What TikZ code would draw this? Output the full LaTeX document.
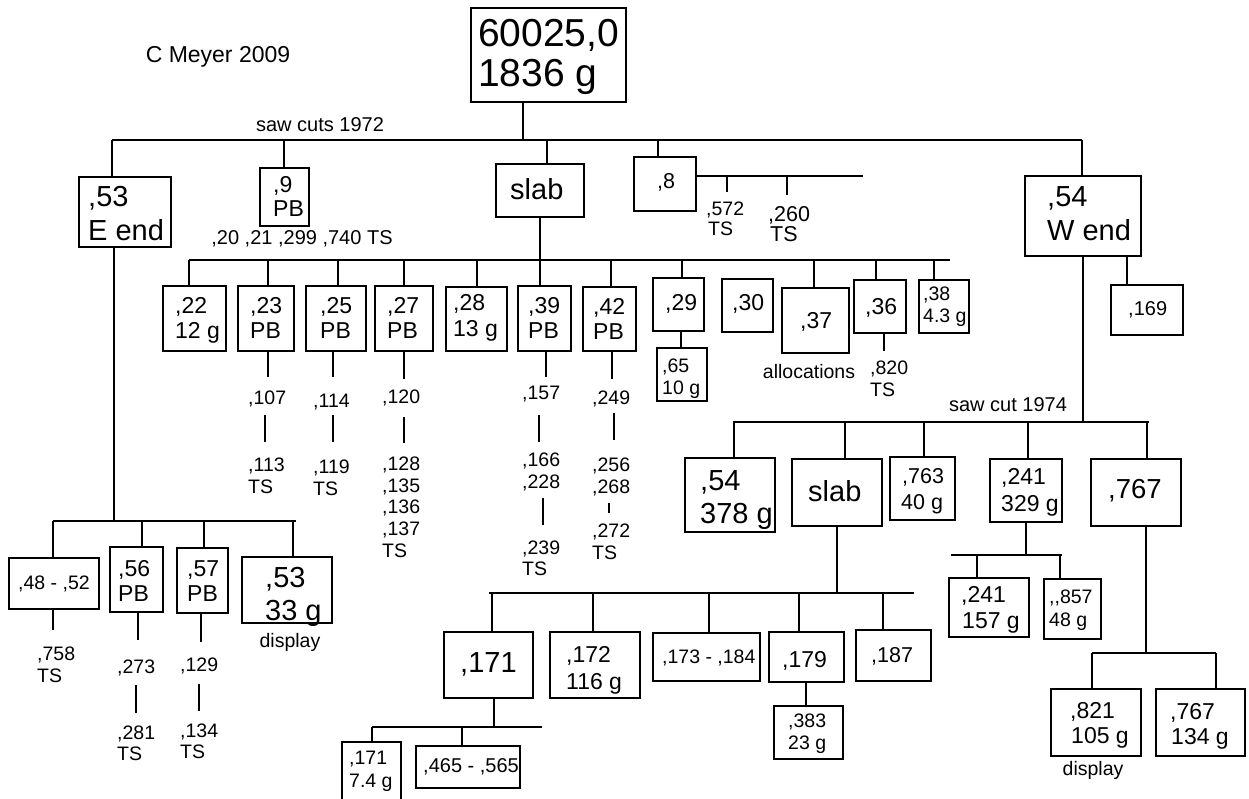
\documentclass[tikz,border=0pt]{standalone}
\usepackage{fontspec}
\setmainfont{Liberation Sans}
\newcommand\fzR{\fontsize{39pt}{41pt}\selectfont}
\newcommand\fzL{\fontsize{29pt}{32pt}\selectfont}
\newcommand\fzK{\fontsize{27.5pt}{30pt}\selectfont}
\newcommand\fzM{\fontsize{23pt}{25pt}\selectfont}
\newcommand\fzN{\fontsize{21.5pt}{24pt}\selectfont}
\newcommand\fzT{\fontsize{20pt}{22pt}\selectfont}
\newcommand\fzS{\fontsize{19.5pt}{22pt}\selectfont}
% box: name x1 y1 x2 y2
\newcommand\bx[5]{\node[boxst, minimum width=#4pt-#2pt, minimum height=#5pt-#3pt, anchor=north west] (#1) at (#2,#3) {};}
% text, left baseline
\newcommand\tl[5]{\node[font=#2, anchor=base west, inner sep=0pt] (#1) at (#3,#4) {#5};}
% text, centred baseline
\newcommand\tc[5]{\node[font=#2, anchor=base, inner sep=0pt] (#1) at (#3,#4) {#5};}
% vertical from bus point down to node top
\newcommand\drop[4]{\coordinate (#1) at (#2,#3); \draw[ln] (#1) -- (#1 |- #4.north);}
% vertical from node bottom down to point
\newcommand\rise[4]{\coordinate (#1) at (#2,#3); \draw[ln] (#4.south -| #1) -- (#1);}
% vertical between two nodes at given x
\newcommand\link[6]{\coordinate (#1) at (#2,0); \draw[ln] (#3.#4 -| #1) -- (#5.#6 -| #1);}
% free vertical segment
\newcommand\seg[4]{\coordinate (#1a) at (#2,#3); \coordinate (#1b) at (#2,#4); \draw[ln] (#1a) -- (#1b);}
% horizontal bus
\newcommand\bus[4]{\coordinate (#1L) at (#2,#4); \coordinate (#1R) at (#3,#4); \draw[ln] (#1L) -- (#1R);}
\begin{document}
\begin{tikzpicture}[x=1pt,y=-1pt,
  ln/.style={line width=1.3pt},
  boxst/.style={draw, line width=1.5pt, inner sep=0pt, outer sep=0pt}]
\clip (0,0) rectangle (1249,799);
\fill[white] (0,0) rectangle (1249,799);

\tc{title}{\fzM}{218}{63}{C Meyer 2009}

% root
\bx{root}{471}{8}{626}{102}
\tl{rootA}{\fzR}{478}{47}{60025,0}
\tl{rootB}{\fzR}{478}{87}{1836 g}
\rise{r1}{523}{140}{root}
\bus{mb}{112}{1082}{140}
\tc{saw72}{\fzT}{320}{132}{saw cuts 1972}

% E end
\bx{eend}{79}{177}{171}{247}
\drop{d1}{112}{140}{eend}
\tl{eendA}{\fzL}{88}{207}{,53}
\tl{eendB}{\fzL}{88}{241}{E end}

% ,9 PB
\bx{b9}{260}{168}{309}{226}
\drop{d2}{284}{140}{b9}
\tl{b9A}{\fzM}{273}{193}{,9}
\tl{b9B}{\fzM}{273}{217}{PB}
\tc{ts9}{\fzT}{302}{245}{,20 ,21 ,299 ,740 TS}

% slab (1972)
\bx{slabA}{496}{164}{584}{217}
\drop{d3}{547}{140}{slabA}
\tl{slabAt}{\fzL}{510}{200}{slab}

% ,8
\bx{b8}{634}{157}{696}{211}
\drop{d4}{658}{140}{b8}
\tl{b8t}{\fzN}{657}{189}{,8}
\coordinate (b8R) at (863,176);
\draw[ln] (b8.east |- b8R) -- (b8R);
\seg{t572}{727}{176}{192}
\seg{t260}{787}{176}{195}
\tl{l572a}{\fzS}{706}{216}{,572}
\tl{l572b}{\fzS}{708}{236}{TS}
\tl{l260a}{\fzN}{768}{222}{,260}
\tl{l260b}{\fzN}{770}{242}{TS}

% W end
\bx{wend}{1025}{176}{1141}{256}
\drop{d5}{1082}{140}{wend}
\tl{wendA}{\fzL}{1047}{207}{,54}
\tl{wendB}{\fzL}{1047}{241}{W end}
\bx{b169}{1111}{285}{1183}{335}
\link{c169}{1127}{wend}{south}{b169}{north}
\tl{b169t}{\fzT}{1128}{316}{,169}
\rise{w1}{1083}{422}{wend}

% second row
\bus{sb}{189}{950}{260}
\bx{b22}{163}{286}{226}{351}
\drop{e1}{189}{260}{b22}
\tl{b22A}{\fzM}{175}{313}{,22}
\tl{b22B}{\fzM}{175}{338}{12 g}
\bx{b23}{238}{286}{294}{351}
\drop{e2}{268}{260}{b23}
\tl{b23A}{\fzM}{250}{313}{,23}
\tl{b23B}{\fzM}{250}{338}{PB}
\bx{b25}{306}{286}{366}{351}
\drop{e3}{338}{260}{b25}
\tl{b25A}{\fzM}{320}{313}{,25}
\tl{b25B}{\fzM}{320}{338}{PB}
\bx{b27}{375}{286}{433}{351}
\drop{e4}{404}{260}{b27}
\tl{b27A}{\fzM}{387}{313}{,27}
\tl{b27B}{\fzM}{387}{338}{PB}
\bx{b28}{446}{287}{507}{351}
\drop{e5}{477}{260}{b28}
\tl{b28A}{\fzM}{453}{311}{,28}
\tl{b28B}{\fzM}{453}{336}{13 g}
\bx{b39}{518}{286}{571}{351}
\link{s1}{540}{slabA}{south}{b39}{north}
\tl{b39A}{\fzM}{528}{313}{,39}
\tl{b39B}{\fzM}{528}{338}{PB}
\bx{b42}{583}{287}{636}{351}
\drop{e6}{611}{260}{b42}
\tl{b42A}{\fzM}{593}{314}{,42}
\tl{b42B}{\fzM}{593}{339}{PB}
\bx{b29}{653}{278}{704}{331}
\drop{e7}{682}{260}{b29}
\tl{b29t}{\fzM}{665}{310}{,29}
\bx{b65}{657}{348}{707}{401}
\link{c65}{681}{b29}{south}{b65}{north}
\tl{b65A}{\fzS}{662}{372}{,65}
\tl{b65B}{\fzS}{662}{394}{10 g}
\bx{b30}{722}{279}{773}{332}
\tl{b30t}{\fzM}{732}{311}{,30}
\bx{b37}{782}{288}{849}{353}
\drop{e8}{814}{260}{b37}
\tl{b37t}{\fzM}{800}{328}{,37}
\tc{alloc}{\fzS}{809}{378}{allocations}
\bx{b36}{854}{280}{906}{333}
\drop{e9}{876}{260}{b36}
\tl{b36t}{\fzM}{865}{314}{,36}
\rise{c820}{884}{351}{b36}
\tl{l820a}{\fzS}{870}{374}{,820}
\tl{l820b}{\fzS}{870}{396}{TS}
\bx{b38}{919}{280}{969}{333}
\drop{e10}{934}{260}{b38}
\tl{b38A}{\fzS}{923}{301}{,38}
\tl{b38B}{\fzS}{923}{323}{4.3 g}

% chains below row 2
\rise{c107}{268}{377}{b23}
\tl{l107}{\fzS}{248}{404}{,107}
\seg{g107}{265}{415}{442}
\tl{l113}{\fzS}{248}{471}{,113}
\tl{l113b}{\fzS}{248}{493}{TS}

\rise{c114}{333}{377}{b25}
\tl{l114}{\fzS}{313}{407}{,114}
\seg{g114}{333}{415}{442}
\tl{l119}{\fzS}{313}{473}{,119}
\tl{l119b}{\fzS}{313}{495}{TS}

\rise{c120}{404}{379}{b27}
\tl{l120}{\fzS}{382}{403}{,120}
\seg{g120}{404}{417}{443}
\tl{l128}{\fzS}{382}{470}{,128}
\tl{l135}{\fzS}{382}{492}{,135}
\tl{l136}{\fzS}{382}{513}{,136}
\tl{l137}{\fzS}{382}{535}{,137}
\tl{l137b}{\fzS}{382}{557}{TS}

\rise{c157}{546}{377}{b39}
\tl{l157}{\fzS}{522}{399}{,157}
\seg{g157}{539}{415}{442}
\tl{l166}{\fzS}{522}{466}{,166}
\tl{l228}{\fzS}{522}{488}{,228}
\seg{g228}{543}{498}{525}
\tl{l239}{\fzS}{522}{554}{,239}
\tl{l239b}{\fzS}{522}{575}{TS}

\rise{c249}{612}{379}{b42}
\tl{l249}{\fzS}{592}{404}{,249}
\seg{g249}{614}{413}{440}
\tl{l256}{\fzS}{592}{471}{,256}
\tl{l268}{\fzS}{592}{493}{,268}
\seg{g268}{609}{503}{513}
\tl{l272}{\fzS}{592}{537}{,272}
\tl{l272b}{\fzS}{592}{559}{TS}

% E end branch
\rise{c4}{114}{521}{eend}
\bus{lb}{53}{296}{521}
\bx{b48}{9}{558}{99}{609}
\drop{f1}{53}{521}{b48}
\tl{b48t}{\fzS}{18}{589}{,48 - ,52}
\rise{c758}{53}{630}{b48}
\tl{l758}{\fzS}{37}{660}{,758}
\tl{l758b}{\fzS}{37}{682}{TS}
\bx{b56}{110}{547}{163}{612}
\drop{f2}{142}{521}{b56}
\tl{b56A}{\fzM}{118}{576}{,56}
\tl{b56B}{\fzM}{118}{601}{PB}
\rise{c273}{138}{640}{b56}
\tl{l273}{\fzS}{117}{673}{,273}
\seg{g273}{136}{685}{713}
\tl{l281}{\fzS}{117}{739}{,281}
\tl{l281b}{\fzS}{117}{760}{TS}
\bx{b57}{177}{548}{228}{613}
\drop{f3}{204}{521}{b57}
\tl{b57A}{\fzM}{187}{576}{,57}
\tl{b57B}{\fzM}{187}{601}{PB}
\rise{c129}{201}{642}{b57}
\tl{l129}{\fzS}{180}{671}{,129}
\seg{g129}{199}{684}{711}
\tl{l134}{\fzS}{180}{737}{,134}
\tl{l134b}{\fzS}{180}{758}{TS}
\bx{b53}{242}{557}{332}{623}
\drop{f4}{293}{521}{b53}
\tl{b53A}{\fzL}{265}{587}{,53}
\tl{b53B}{\fzL}{265}{620}{33 g}
\tc{disp1}{\fzS}{290}{647}{display}

% saw cut 1974 branch
\bus{rb}{733}{1149}{422}
\tc{saw74}{\fzT}{1008}{411}{saw cut 1974}
\bx{b54}{685}{458}{775}{532}
\drop{h1}{734}{422}{b54}
\tl{b54A}{\fzL}{700}{490}{,54}
\tl{b54B}{\fzL}{700}{523}{378 g}
\bx{slabB}{792}{459}{882}{526}
\drop{h2}{845}{422}{slabB}
\tl{slabBt}{\fzL}{808}{501}{slab}
\bx{b763}{890}{457}{955}{520}
\drop{h3}{924}{422}{b763}
\tl{b763A}{\fzN}{902}{483}{,763}
\tl{b763B}{\fzN}{901}{509}{40 g}
\bx{b241}{990}{459}{1062}{522}
\drop{h4}{1028}{422}{b241}
\tl{b241A}{\fzM}{1001}{484}{,241}
\tl{b241B}{\fzM}{1001}{511}{329 g}
\bx{b767}{1091}{459}{1181}{526}
\drop{h5}{1147}{422}{b767}
\tl{b767t}{\fzK}{1108}{498}{,767}

\rise{c241}{1026}{555}{b241}
\bus{gb}{951}{1062}{555}
\bx{b241b}{949}{578}{1029}{637}
\drop{i1}{977}{555}{b241b}
\tl{b241bA}{\fzM}{961}{602}{,241}
\tl{b241bB}{\fzM}{962}{628}{157 g}
\bx{b857}{1044}{579}{1101}{639}
\drop{i2}{1060}{555}{b857}
\tl{b857A}{\fzS}{1049}{603}{,\kern0pt,857}
\tl{b857B}{\fzS}{1049}{626}{48 g}

\rise{c767}{1146}{653}{b767}
\bus{kb}{1092}{1216}{653}
\bx{b821}{1051}{689}{1141}{756}
\drop{j1}{1092}{653}{b821}
\tl{b821A}{\fzM}{1070}{718}{,821}
\tl{b821B}{\fzM}{1071}{743}{105 g}
\bx{b767b}{1156}{689}{1245}{756}
\drop{j2}{1216}{653}{b767b}
\tl{b767bA}{\fzM}{1170}{719}{,767}
\tl{b767bB}{\fzM}{1171}{744}{134 g}
\tc{disp2}{\fzS}{1093}{775}{display}

% second slab branch
\rise{c2}{837}{593}{slabB}
\bus{ub}{489}{914}{593}
\bx{b171}{444}{632}{533}{698}
\drop{k1}{492}{593}{b171}
\tl{b171t}{\fzL}{460}{672}{,171}
\bx{b172}{550}{632}{640}{698}
\drop{k2}{593}{593}{b172}
\tl{b172A}{\fzM}{566}{662}{,172}
\tl{b172B}{\fzM}{566}{689}{116 g}
\bx{b173}{653}{633}{760}{681}
\drop{k3}{709}{593}{b173}
\tl{b173t}{\fzS}{662}{663}{,173 - ,184}
\bx{b179}{769}{632}{844}{682}
\drop{k4}{799}{593}{b179}
\tl{b179t}{\fzM}{782}{667}{,179}
\bx{b383}{774}{706}{843}{759}
\link{c383}{806}{b179}{south}{b383}{north}
\tl{b383A}{\fzS}{788}{727}{,383}
\tl{b383B}{\fzS}{788}{749}{23 g}
\bx{b187}{856}{630}{931}{681}
\drop{k5}{883}{593}{b187}
\tl{b187t}{\fzN}{871}{662}{,187}

\rise{c171}{494}{727}{b171}
\bus{vb}{372}{542}{727}
\bx{b171b}{342}{742}{401}{815}
\drop{m1}{372}{727}{b171b}
\tl{b171bA}{\fzS}{349}{764}{,171}
\tl{b171bB}{\fzS}{349}{787}{7.4 g}
\bx{b465}{416}{746}{520}{788}
\drop{m2}{462}{727}{b465}
\tl{b465t}{\fzT}{423}{772}{,465 - ,565}
\end{tikzpicture}
\end{document}
